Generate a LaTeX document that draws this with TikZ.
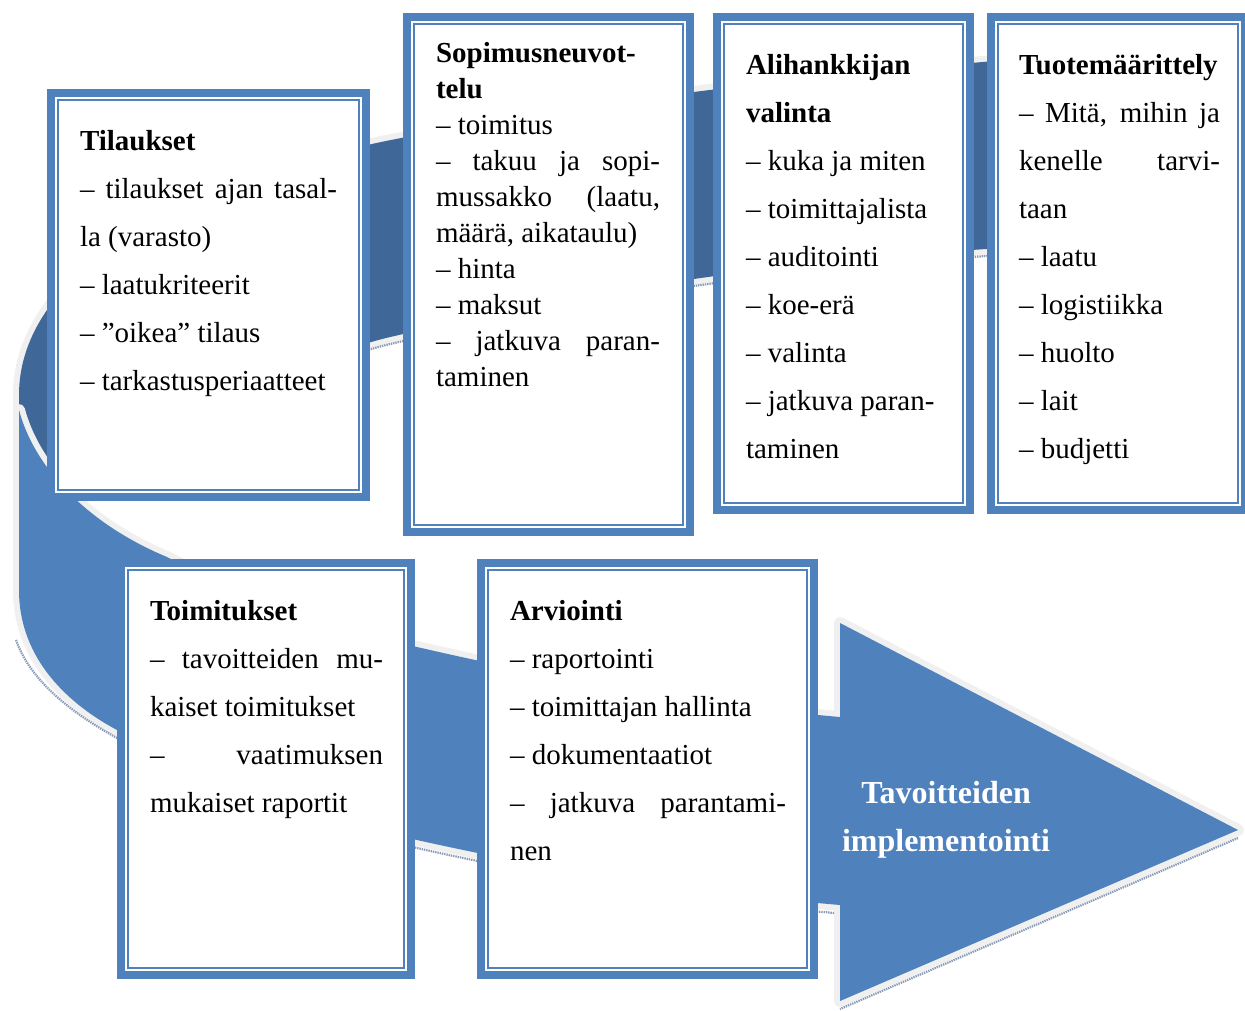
\documentclass[tikz,border=0pt]{standalone}
\usepackage{fontspec}
\setmainfont{Liberation Serif}
\usetikzlibrary{calc}
\definecolor{ribblue}{HTML}{4F81BD}
\definecolor{ribdark}{HTML}{3F6798}
\definecolor{rimgray}{HTML}{F0F0F0}
\definecolor{hatchc}{HTML}{8A9BB5}
\tikzset{
  ribbon/.style={preaction={draw=rimgray,line width=12pt,line join=round}},
  hatchline/.style={draw=hatchc,line width=2.2pt,dash pattern=on 1.4pt off 0.9pt},
  panel/.style={draw=ribblue,line width=8pt,fill=white,inner sep=0pt,outer sep=0pt,anchor=north west},
  innerline/.style={draw=ribblue,line width=1.7pt},
  bodytext/.style={anchor=base west,inner sep=0pt,outer sep=0pt},
  arrowtext/.style={anchor=base,inner sep=0pt,outer sep=0pt,text=white}
}
\newcommand\panelbox[5]{%
  \node[panel,minimum width={#4-#2-8},minimum height={#5-#3-8}] (#1) at ({#2+4},{#3+4}) {};
  \draw[innerline] ($(#1.north west)+(7,7)$) rectangle ($(#1.south east)+(-7,-7)$);
}
\newcommand\bodyfont{\fontsize{29}{48}\selectfont}
\begin{document}
\begin{tikzpicture}[x=1pt,y=-1pt]
\useasboundingbox (0,0) rectangle (1245,1011);
% back (dark) part of the ribbon
\fill[ribdark,ribbon] (1265,43) .. controls (900,62) and (600,98) .. (386,141)
  .. controls (150,190) and (19,285) .. (19,395) -- (19,480) -- (110,480)
  .. controls (200,410) and (300,360) .. (386,338)
  .. controls (550,300) and (800,245) .. (1265,238) -- cycle;
\draw[hatchline] (110,487) .. controls (200,417) and (300,367) .. (386,345)
  .. controls (550,307) and (800,252) .. (1265,245);
% front (light) part of the ribbon with arrowhead
\fill[ribblue,ribbon] (19,410) .. controls (35,470) and (90,525) .. (167,557)
  .. controls (250,600) and (350,632) .. (417,647)
  .. controls (560,680) and (700,705) .. (840,717)
  -- (840,623) -- (1238,830) -- (840,1001) -- (840,905)
  .. controls (700,893) and (560,872) .. (417,840)
  .. controls (350,825) and (220,790) .. (117,730)
  .. controls (70,705) and (19,660) .. (19,590) -- cycle;
\draw[hatchline] (16,640) .. controls (30,680) and (70,712) .. (117,738)
  .. controls (220,798) and (350,833) .. (417,848)
  .. controls (560,880) and (700,901) .. (834,913);
\draw[hatchline] (1238,838) -- (840,1009);
% panels
\panelbox{b1}{47}{89}{370}{501}
\panelbox{b2}{403}{13}{694}{536}
\panelbox{b3}{713}{13}{974}{514}
\panelbox{b4}{987}{13}{1249}{514}
\panelbox{b5}{117}{559}{415}{979}
\panelbox{b6}{477}{559}{818}{979}
% texts
\node[bodytext] (t1) at (80,151) {\parbox[t]{400pt}{\bodyfont
  \textbf{Tilaukset}\\
  \makebox[257pt][s]{– tilaukset ajan tasal-}\\
  la (varasto)\\
  – laatukriteerit\\
  – ”oikea” tilaus\\
  – tarkastusperiaatteet}};
\node[bodytext] (t2) at (436,63) {\parbox[t]{400pt}{\fontsize{29}{36}\selectfont
  \textbf{Sopimusneuvot-}\\
  \textbf{telu}\\
  – toimitus\\
  \makebox[224pt][s]{– takuu ja sopi-}\\
  \makebox[224pt][s]{mussakko (laatu,}\\
  määrä, aikataulu)\\
  – hinta\\
  – maksut\\
  \makebox[224pt][s]{– jatkuva paran-}\\
  taminen}};
\node[bodytext] (t3) at (746,75) {\parbox[t]{400pt}{\bodyfont
  \textbf{Alihankkijan}\\
  \textbf{valinta}\\
  – kuka ja miten\\
  – toimittajalista\\
  – auditointi\\
  – koe-erä\\
  – valinta\\
  – jatkuva paran-\\
  taminen}};
\node[bodytext] (t4) at (1019,75) {\parbox[t]{400pt}{\bodyfont
  \textbf{Tuotemäärittely}\\
  \makebox[201pt][s]{– Mitä, mihin ja}\\
  \makebox[201pt][s]{kenelle tarvi-}\\
  taan\\
  – laatu\\
  – logistiikka\\
  – huolto\\
  – lait\\
  – budjetti}};
\node[bodytext] (t5) at (150,620) {\parbox[t]{400pt}{\bodyfont
  \textbf{Toimitukset}\\
  \makebox[233pt][s]{– tavoitteiden mu-}\\
  kaiset toimitukset\\
  \makebox[233pt][s]{– vaatimuksen}\\
  mukaiset raportit}};
\node[bodytext] (t6) at (510,620) {\parbox[t]{400pt}{\bodyfont
  \textbf{Arviointi}\\
  – raportointi\\
  – toimittajan hallinta\\
  – dokumentaatiot\\
  \makebox[276pt][s]{– jatkuva parantami-}\\
  nen}};
\node[arrowtext] (t7) at (946,803) {\parbox[t]{300pt}{\centering\fontsize{32}{48}\selectfont\bfseries
  Tavoitteiden\\ implementointi}};
\end{tikzpicture}
\end{document}
